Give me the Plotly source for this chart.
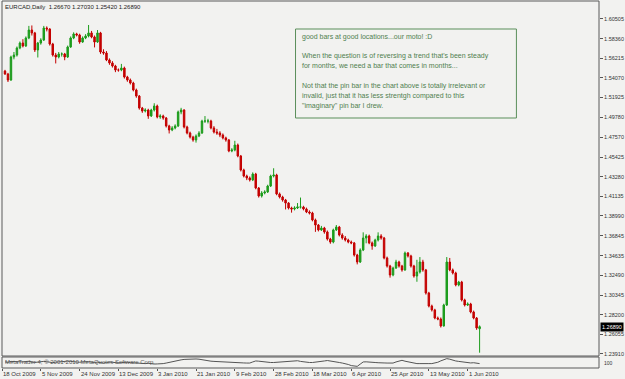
import plotly.graph_objects as go

# ---------------- data ----------------
header = "EURCAD,Daily  1.26670 1.27030 1.25420 1.26890"

opens = [
    1.5482, 1.5450, 1.5384, 1.5635, 1.5657, 1.5734, 1.5788, 1.5756, 1.5843, 1.5930,
    1.5898, 1.5712, 1.5788, 1.5821, 1.5952, 1.5941, 1.5777, 1.5657, 1.5635, 1.5668,
    1.5668, 1.5635, 1.5745, 1.5843, 1.5887, 1.5876, 1.5799, 1.5843, 1.5865, 1.5898,
    1.5854, 1.5799, 1.5898, 1.5690, 1.5679, 1.5603, 1.5570, 1.5537, 1.5493, 1.5493,
    1.5515, 1.5417, 1.5384, 1.5351, 1.5275, 1.5209, 1.5078, 1.5045, 1.5056, 1.4991,
    1.5056, 1.5100, 1.4980, 1.4991, 1.4969, 1.4882, 1.4838, 1.4860, 1.4882, 1.5035,
    1.5056, 1.4871, 1.4805, 1.4761, 1.4729, 1.4772, 1.4805, 1.4936, 1.4936, 1.4936,
    1.4860, 1.4816, 1.4805, 1.4783, 1.4751, 1.4729, 1.4609, 1.4619, 1.4674, 1.4554,
    1.4401, 1.4335, 1.4314, 1.4292, 1.4357, 1.4204, 1.4117, 1.4150, 1.4161, 1.4226,
    1.4335, 1.4346, 1.4139, 1.4106, 1.4073, 1.4040, 1.3986, 1.3975, 1.3986, 1.3997,
    1.3997, 1.3975, 1.3942, 1.3931, 1.3855, 1.3800, 1.3746, 1.3767, 1.3724, 1.3647,
    1.3614, 1.3746, 1.3778, 1.3691, 1.3658, 1.3636, 1.3614, 1.3604, 1.3472, 1.3396,
    1.3527, 1.3658, 1.3680, 1.3604, 1.3571, 1.3636, 1.3680, 1.3658, 1.3440, 1.3352,
    1.3254, 1.3330, 1.3396, 1.3352, 1.3309, 1.3494, 1.3462, 1.3352, 1.3243, 1.3287,
    1.3396, 1.3309, 1.3057, 1.2915, 1.2872, 1.2784, 1.2773, 1.2697, 1.2926, 1.3396,
    1.3309, 1.3276, 1.3145, 1.3177, 1.2981, 1.2926, 1.2937, 1.2850, 1.2784, 1.2667,
]

highs = [
    1.5495, 1.5462, 1.5650, 1.5690, 1.5750, 1.5805, 1.5830, 1.5860, 1.5975, 1.5980,
    1.5910, 1.5800, 1.5840, 1.5975, 1.5970, 1.5950, 1.5790, 1.5680, 1.5690, 1.5685,
    1.5680, 1.5760, 1.5860, 1.5905, 1.5900, 1.5890, 1.5860, 1.5885, 1.5985, 1.5920,
    1.5870, 1.5930, 1.5910, 1.5720, 1.5700, 1.5620, 1.5590, 1.5550, 1.5510, 1.5560,
    1.5530, 1.5430, 1.5400, 1.5365, 1.5290, 1.5220, 1.5090, 1.5075, 1.5070, 1.5070,
    1.5130, 1.5115, 1.5010, 1.5005, 1.4980, 1.4895, 1.4880, 1.4900, 1.5050, 1.5080,
    1.5065, 1.4885, 1.4820, 1.4775, 1.4790, 1.4825, 1.4950, 1.4990, 1.4960, 1.4950,
    1.4880, 1.4850, 1.4825, 1.4800, 1.4765, 1.4740, 1.4640, 1.4720, 1.4690, 1.4565,
    1.4415, 1.4350, 1.4330, 1.4375, 1.4370, 1.4215, 1.4170, 1.4180, 1.4240, 1.4350,
    1.4420, 1.4360, 1.4155, 1.4120, 1.4085, 1.4050, 1.4000, 1.4005, 1.4040, 1.4100,
    1.4010, 1.3990, 1.3960, 1.3945, 1.3870, 1.3810, 1.3790, 1.3780, 1.3740, 1.3660,
    1.3760, 1.3800, 1.3790, 1.3710, 1.3680, 1.3650, 1.3630, 1.3615, 1.3485, 1.3545,
    1.3720, 1.3700, 1.3695, 1.3620, 1.3650, 1.3720, 1.3700, 1.3670, 1.3455, 1.3365,
    1.3345, 1.3420, 1.3410, 1.3365, 1.3510, 1.3505, 1.3475, 1.3365, 1.3420, 1.3450,
    1.3420, 1.3320, 1.3070, 1.2930, 1.2885, 1.2800, 1.2790, 1.2940, 1.3450, 1.3440,
    1.3325, 1.3290, 1.3190, 1.3190, 1.2995, 1.2955, 1.2950, 1.2865, 1.2795, 1.2703,
]

lows = [
    1.5440, 1.5362, 1.5375, 1.5610, 1.5640, 1.5720, 1.5740, 1.5745, 1.5830, 1.5870,
    1.5690, 1.5630, 1.5770, 1.5810, 1.5915, 1.5760, 1.5640, 1.5565, 1.5620, 1.5640,
    1.5600, 1.5625, 1.5735, 1.5830, 1.5860, 1.5780, 1.5790, 1.5830, 1.5850, 1.5840,
    1.5740, 1.5790, 1.5670, 1.5660, 1.5590, 1.5550, 1.5520, 1.5470, 1.5475, 1.5480,
    1.5400, 1.5365, 1.5335, 1.5260, 1.5190, 1.5060, 1.5025, 1.5030, 1.4960, 1.4980,
    1.5040, 1.4965, 1.4960, 1.4950, 1.4865, 1.4800, 1.4825, 1.4845, 1.4870, 1.5010,
    1.4855, 1.4790, 1.4745, 1.4710, 1.4700, 1.4760, 1.4795, 1.4915, 1.4910, 1.4845,
    1.4800, 1.4785, 1.4760, 1.4735, 1.4710, 1.4595, 1.4595, 1.4605, 1.4540, 1.4385,
    1.4320, 1.4290, 1.4275, 1.4280, 1.4190, 1.4100, 1.4100, 1.4135, 1.4150, 1.4215,
    1.4320, 1.4125, 1.4090, 1.4055, 1.3970, 1.3970, 1.3935, 1.3960, 1.3975, 1.3980,
    1.3960, 1.3930, 1.3915, 1.3840, 1.3725, 1.3730, 1.3735, 1.3705, 1.3630, 1.3595,
    1.3600, 1.3735, 1.3675, 1.3640, 1.3620, 1.3600, 1.3590, 1.3455, 1.3370, 1.3385,
    1.3515, 1.3600, 1.3590, 1.3530, 1.3560, 1.3620, 1.3640, 1.3425, 1.3335, 1.3225,
    1.3240, 1.3320, 1.3335, 1.3290, 1.3300, 1.3445, 1.3335, 1.3225, 1.3180, 1.3270,
    1.3290, 1.3040, 1.2900, 1.2855, 1.2770, 1.2760, 1.2680, 1.2690, 1.2915, 1.3295,
    1.3260, 1.3130, 1.3130, 1.2965, 1.2910, 1.2915, 1.2835, 1.2770, 1.2655, 1.2405,
]

closes = [
    1.5450, 1.5384, 1.5635, 1.5657, 1.5734, 1.5788, 1.5756, 1.5843, 1.5930, 1.5898,
    1.5712, 1.5788, 1.5821, 1.5952, 1.5941, 1.5777, 1.5657, 1.5635, 1.5668, 1.5668,
    1.5635, 1.5745, 1.5843, 1.5887, 1.5876, 1.5799, 1.5843, 1.5865, 1.5898, 1.5854,
    1.5799, 1.5898, 1.5690, 1.5679, 1.5603, 1.5570, 1.5537, 1.5493, 1.5493, 1.5515,
    1.5417, 1.5384, 1.5351, 1.5275, 1.5209, 1.5078, 1.5045, 1.5056, 1.4991, 1.5056,
    1.5100, 1.4980, 1.4991, 1.4969, 1.4882, 1.4838, 1.4860, 1.4882, 1.5035, 1.5056,
    1.4871, 1.4805, 1.4761, 1.4729, 1.4772, 1.4805, 1.4936, 1.4936, 1.4936, 1.4860,
    1.4816, 1.4805, 1.4783, 1.4751, 1.4729, 1.4609, 1.4619, 1.4674, 1.4554, 1.4401,
    1.4335, 1.4314, 1.4292, 1.4357, 1.4204, 1.4117, 1.4150, 1.4161, 1.4226, 1.4335,
    1.4346, 1.4139, 1.4106, 1.4073, 1.4040, 1.3986, 1.3975, 1.3986, 1.3997, 1.3997,
    1.3975, 1.3942, 1.3931, 1.3855, 1.3800, 1.3746, 1.3767, 1.3724, 1.3647, 1.3614,
    1.3746, 1.3778, 1.3691, 1.3658, 1.3636, 1.3614, 1.3604, 1.3472, 1.3396, 1.3527,
    1.3658, 1.3680, 1.3604, 1.3571, 1.3636, 1.3680, 1.3658, 1.3440, 1.3352, 1.3254,
    1.3330, 1.3396, 1.3352, 1.3309, 1.3494, 1.3462, 1.3352, 1.3243, 1.3287, 1.3396,
    1.3309, 1.3057, 1.2915, 1.2872, 1.2784, 1.2773, 1.2697, 1.2926, 1.3396, 1.3309,
    1.3276, 1.3145, 1.3177, 1.2981, 1.2926, 1.2937, 1.2850, 1.2784, 1.2675, 1.2689,
]

indicator = [
    55, 52, 60, 58, 62, 57, 55, 59, 61, 56,
    50, 54, 58, 60, 57, 52, 49, 53, 56, 55,
    58, 62, 60, 57, 55, 52, 56, 60, 58, 54,
    50, 53, 48, 45, 50, 55, 52, 48, 46, 50,
    54, 52, 49, 47, 44, 46, 42, 40, 43, 38,
    36, 37, 36, 40, 45, 52, 60, 66, 70, 74,
    78, 80, 79, 81, 82, 80, 74, 68, 64, 62,
    60, 58, 57, 56, 55, 55, 52, 50, 48, 47,
    46, 45, 45, 55, 64, 62, 58, 54, 52, 50,
    50, 52, 55, 58, 60, 63, 66, 66, 66, 60,
    55, 52, 50, 50, 52, 56, 60, 64, 68, 62,
    56, 52, 50, 45, 40, 32, 22, 15, 15, 35,
    55, 56, 52, 50, 50, 48, 50, 46, 45, 45,
    45, 55, 65, 70, 62, 55, 48, 42, 40, 40,
    42, 40, 40, 40, 45, 52, 65, 78, 85, 80,
    70, 64, 60, 55, 52, 50, 46, 48, 42, 40,
]

date_labels = ["18 Oct 2009", "5 Nov 2009", "24 Nov 2009", "13 Dec 2009", "3 Jan 2010",
               "21 Jan 2010", "9 Feb 2010", "28 Feb 2010", "18 Mar 2010", "6 Apr 2010",
               "25 Apr 2010", "13 May 2010", "1 Jun 2010"]
label_bars = list(range(-1, 160, 13))  # bar index where each date label begins

price_ticks = [1.60505, 1.58360, 1.56215, 1.54070, 1.51925, 1.49780, 1.47570, 1.45425,
               1.43280, 1.41135, 1.38990, 1.36845, 1.34635, 1.32490, 1.30345, 1.28200,
               1.26055, 1.23910]
last_price = 1.26890

note_lines = [
    "good bars at good locations...our moto! :D",
    "When the question is of reversing a trend that's been steady",
    "for months, we need a bar that comes in months...",
    "Not that the pin bar in the chart above is totally irrelevant or",
    "invalid, just that it has less strentgh compared to this",
    "\"imaginary\" pin bar I drew.",
]
copyright_text = "MetaTrader 4, \u00a9 2001-2010 MetaQuotes Software Corp."

bars = list(range(len(closes)))

# ---------------- layout geometry (pixels) ----------------
W, H = 625, 379
ML, MR, MT, MB = 2, 23, 1, 11
PW = W - ML - MR
PH = H - MT - MB


def px(x):
    return (x - ML) / PW


def py(y):
    return (H - MB - y) / PH


main_bottom = py(356)
ind_top = py(357)

BG = "#f2f2f0"
FONT = "Liberation Sans"
NOTE_COL = "#4f804f"

fig = go.Figure()
fig.add_trace(go.Candlestick(
    x=bars, open=opens, high=highs, low=lows, close=closes,
    increasing=dict(line=dict(color="#1c9c1c", width=1), fillcolor="#1c9c1c"),
    decreasing=dict(line=dict(color="#c40000", width=1), fillcolor="#c40000"),
    whiskerwidth=0, xaxis="x", yaxis="y", showlegend=False, hoverinfo="skip",
))
fig.add_trace(go.Scatter(
    x=bars, y=indicator, mode="lines", line=dict(color="#555555", width=1),
    xaxis="x", yaxis="y2", showlegend=False, hoverinfo="skip",
))

annotations = []
annotations.append(dict(text=header, xref="paper", yref="paper", x=px(3), y=py(7),
                        xanchor="left", yanchor="middle", showarrow=False,
                        font=dict(family=FONT, size=6, color="#222222")))
for lab, b in zip(date_labels, label_bars):
    annotations.append(dict(text=lab, xref="x", yref="paper", x=b, y=py(374),
                            xanchor="left", yanchor="middle", showarrow=False, xshift=-1,
                            font=dict(family=FONT, size=6, color="#333333")))
note_y = [37, 56, 66, 86, 96, 106]
for line, yy in zip(note_lines, note_y):
    annotations.append(dict(text=line, xref="paper", yref="paper", x=px(301), y=py(yy),
                            xanchor="left", yanchor="middle", showarrow=False,
                            font=dict(family=FONT, size=7, color=NOTE_COL)))
annotations.append(dict(text=copyright_text, xref="paper", yref="paper", x=px(3), y=py(362),
                        xanchor="left", yanchor="middle", showarrow=False,
                        font=dict(family=FONT, size=6, color="#555555")))
annotations.append(dict(text="%.5f" % last_price, xref="paper", yref="y", x=1.0, y=last_price,
                        xanchor="left", yanchor="middle", showarrow=False, xshift=1,
                        bgcolor="#000000", borderpad=1,
                        font=dict(family=FONT, size=5.5, color="#ffffff")))
annotations.append(dict(text="100", xref="paper", yref="paper", x=1.0, y=py(363),
                        xanchor="left", yanchor="middle", showarrow=False, xshift=3,
                        font=dict(family=FONT, size=5, color="#333333")))

shapes = [
    dict(type="rect", xref="paper", yref="paper", x0=0, x1=1, y0=main_bottom, y1=1,
         line=dict(color="#5a5a5a", width=1), fillcolor="rgba(0,0,0,0)"),
    dict(type="rect", xref="paper", yref="paper", x0=0, x1=1, y0=0, y1=ind_top,
         line=dict(color="#5a5a5a", width=1), fillcolor="rgba(0,0,0,0)"),
    dict(type="rect", xref="paper", yref="paper", x0=px(297), x1=px(519), y0=py(118), y1=py(29),
         line=dict(color="#5b8f5b", width=1), fillcolor="rgba(0,0,0,0)"),
]

fig.update_layout(
    width=W, height=H, autosize=False,
    margin=dict(l=ML, r=MR, t=MT, b=MB, pad=0),
    paper_bgcolor=BG, plot_bgcolor=BG,
    showlegend=False,
    xaxis=dict(domain=[0, 1], anchor="y2", range=[-1, 199], showgrid=False, zeroline=False,
               showticklabels=False, tickvals=label_bars, ticks="outside", ticklen=2,
               tickcolor="#555555", rangeslider=dict(visible=False), showline=False),
    yaxis=dict(domain=[main_bottom, 1], anchor="x", side="right",
               range=[1.6258 - 1 * 0.0010924, 1.6258 - 356 * 0.0010924],
               tickvals=price_ticks, ticktext=["%.5f" % v for v in price_ticks],
               ticks="outside", ticklen=3, tickcolor="#555555",
               tickfont=dict(family=FONT, size=5.5, color="#333333"),
               showgrid=False, zeroline=False, showline=False, autorange=False),
    yaxis2=dict(domain=[0, ind_top], anchor="x", range=[0, 100], showticklabels=False,
                showgrid=False, zeroline=False, ticks=""),
    annotations=annotations,
    shapes=shapes,
)
fig.update_yaxes(autorange=False)
fig.layout.yaxis.range = [1.6258 - 356 * 0.0010924, 1.6258 - 1 * 0.0010924]

fig.write_html("out.html")
